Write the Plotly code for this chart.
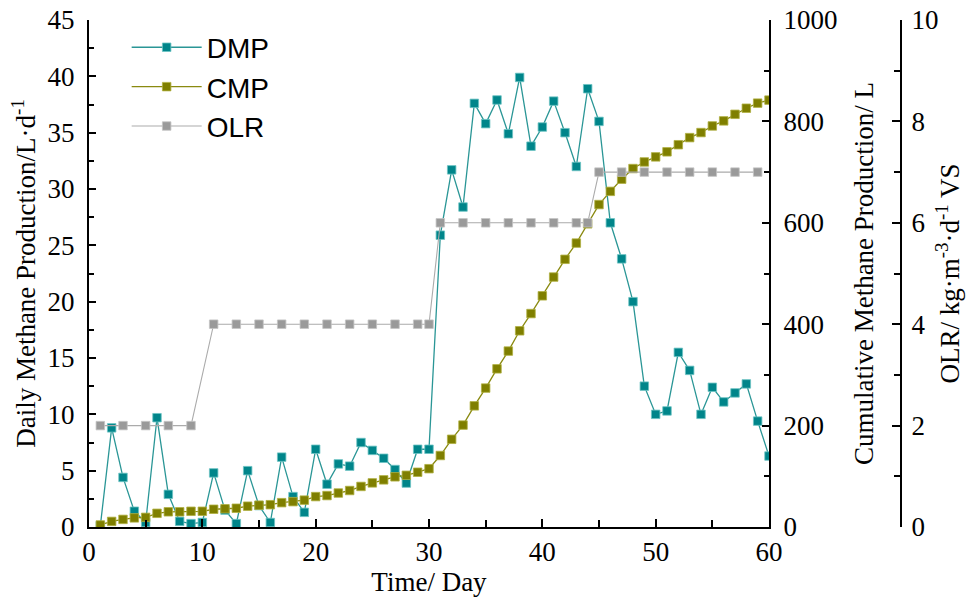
import plotly.graph_objects as go

days = list(range(1, 61))

dmp = [0.1, 8.8, 4.4, 1.4, 0.4, 9.7, 2.9, 0.5, 0.3, 0.4,
       4.8, 1.5, 0.3, 5.0, 1.9, 0.4, 6.2, 2.7, 1.3, 6.9,
       3.8, 5.6, 5.4, 7.5, 6.8, 6.1, 5.1, 3.9, 6.9, 6.9,
       25.9, 31.7, 28.4, 37.6, 35.8, 37.9, 34.9, 39.9, 33.8, 35.5,
       37.8, 35.0, 32.0, 38.9, 36.0, 27.0, 23.8, 20.0, 12.5, 10.0,
       10.3, 15.5, 13.9, 10.0, 12.4, 11.1, 11.9, 12.7, 9.4, 6.3]

cmp_ = [4, 11, 15, 18, 19, 27, 30, 30, 31, 31,
        35, 36, 37, 41, 43, 44, 48, 50, 53, 60,
        62, 67, 72, 80, 87, 93, 99, 102, 108, 115,
        141, 173, 201, 239, 274, 312, 347, 387, 421, 456,
        493, 528, 560, 598, 636, 662, 686, 707, 720, 730,
        740, 754, 768, 778, 791, 801, 814, 826, 836, 842]

olr_days = [1, 3, 5, 7, 9,
            11, 13, 15, 17, 19, 21, 23, 25, 27, 29, 30,
            31, 33, 35, 37, 39, 41, 43, 44,
            45, 47, 49, 51, 53, 55, 57, 59]
olr = [2, 2, 2, 2, 2,
       4, 4, 4, 4, 4, 4, 4, 4, 4, 4, 4,
       6, 6, 6, 6, 6, 6, 6, 6,
       7, 7, 7, 7, 7, 7, 7, 7]

x_ticks = [0, 10, 20, 30, 40, 50, 60]
y1_ticks = [0, 5, 10, 15, 20, 25, 30, 35, 40, 45]
y2_ticks = [0, 200, 400, 600, 800, 1000]
y3_ticks = [0, 2, 4, 6, 8, 10]

serif = "Liberation Serif, Times New Roman, serif"
sans = "Liberation Sans, Arial, sans-serif"

fig = go.Figure()
fig.add_trace(go.Scatter(
    x=days, y=dmp, name="DMP", mode="lines+markers", yaxis="y",
    line=dict(color="#2A9696", width=1.3),
    marker=dict(symbol="square", size=8.5, color="#00858A",
                line=dict(color="#6CC4C4", width=0.8)),
    legendgroup="a"))
fig.add_trace(go.Scatter(
    x=days, y=cmp_, name="CMP", mode="lines+markers", yaxis="y2",
    line=dict(color="#8A8A10", width=1.3),
    marker=dict(symbol="square", size=8.5, color="#7F7F00",
                line=dict(color="#B0B040", width=0.8)),
    legendgroup="b"))
fig.add_trace(go.Scatter(
    x=olr_days, y=olr, name="OLR", mode="lines+markers", yaxis="y3",
    line=dict(color="#ABABAB", width=1.1),
    marker=dict(symbol="square", size=8.5, color="#9A9A9A",
                line=dict(color="#C4C4C4", width=0.8)),
    legendgroup="c"))

axis_common = dict(showgrid=False, zeroline=False, showline=True,
                   linecolor="black", linewidth=2, ticks="inside",
                   tickcolor="black", tickwidth=1.5, automargin=False,
                   tickfont=dict(family=serif, size=27, color="black"))
title_font = dict(family=serif, size=27, color="black")

xdom = 680 / 837
fig.update_layout(
    width=967, height=598,
    margin=dict(l=89, r=41, t=20, b=71),
    paper_bgcolor="white", plot_bgcolor="white",
    showlegend=True,
    legend=dict(x=0.045, y=0.995, xanchor="left", yanchor="top",
                font=dict(family=sans, size=28, color="black"),
                bgcolor="rgba(0,0,0,0)", tracegroupgap=0,
                itemwidth=70),
    xaxis=dict(domain=[0, xdom], range=[0, 60], tickvals=x_ticks,
               ticklen=8, ticklabelstandoff=0,
               minor=dict(dtick=5, ticks="inside", ticklen=7,
                          tickcolor="black", tickwidth=1.5),
               title=dict(text="Time/ Day", font=title_font, standoff=4),
               **axis_common),
    yaxis=dict(range=[0, 45], tickvals=y1_ticks, ticklen=7, ticklabelstandoff=7,
               minor=dict(dtick=2.5, ticks="inside", ticklen=5,
                          tickcolor="black", tickwidth=1.5),
               title=dict(text="Daily Methane Production/L·d<sup>-1</sup>",
                          font=title_font, standoff=4),
               **axis_common),
    yaxis2=dict(range=[0, 1000], tickvals=y2_ticks, ticklen=7, ticklabelstandoff=7,
                overlaying="y", side="right", anchor="x",
                minor=dict(dtick=100, ticks="inside", ticklen=5,
                           tickcolor="black", tickwidth=1.5),
                title=dict(text="Cumulative Methane Production/ L",
                           font=title_font, standoff=18),
                **axis_common),
    yaxis3=dict(range=[0, 10], tickvals=y3_ticks, ticklen=8, ticklabelstandoff=4,
                overlaying="y", side="right", anchor="free", position=812 / 837,
                minor=dict(dtick=1, ticks="inside", ticklen=6,
                           tickcolor="black", tickwidth=1.5),
                title=dict(text="OLR/ kg·m<sup>-3</sup>·d<sup>-1</sup> VS",
                           font=title_font, standoff=2),
                **axis_common),
)

fig.write_html("out.html",
               config={"displayModeBar": False},
               post_script="document.body.style.margin='0px';"
                           "document.body.style.overflow='hidden';")
